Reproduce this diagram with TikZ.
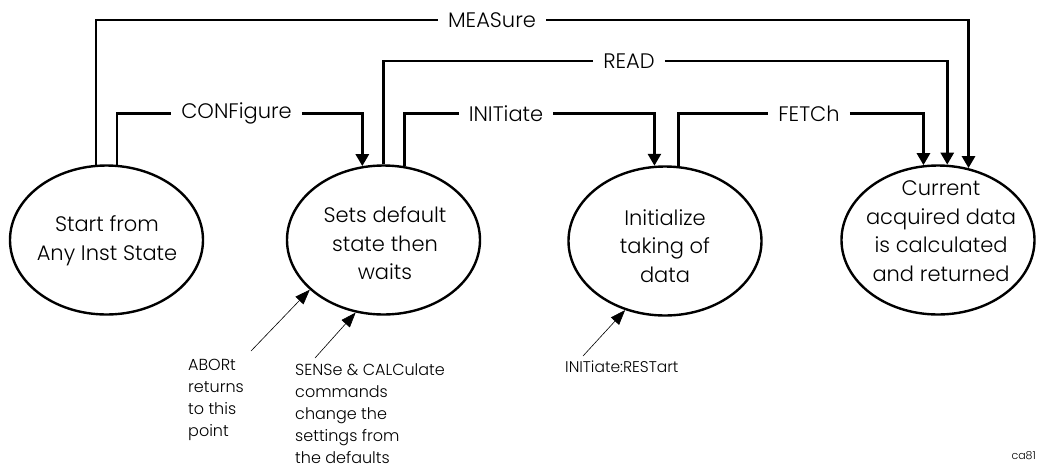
\documentclass[tikz,border=0pt]{standalone}
\usepackage{fontspec}
\setmainfont{Poppins Light}
\usetikzlibrary{arrows.meta,shapes.geometric}
\begin{document}
\begin{tikzpicture}[x=1pt,y=-1pt,
  state/.style={ellipse,draw,line width=2.4pt,minimum width=193pt,minimum height=149pt,inner sep=0pt},
  stxt/.style={align=center,font=\fontsize{21}{28.5}\selectfont,inner sep=0pt},
  cmd/.style={font=\fontsize{21}{24}\selectfont,inner xsep=10pt,inner ysep=0pt},
  flow/.style={line width=2.8pt},
  flowa/.style={flow,-{Triangle[length=12pt,width=13pt]}},
  note/.style={align=left,font=\fontsize{16}{22}\selectfont,inner sep=0pt,anchor=north west},
  pointer/.style={line width=0.6pt,-{Triangle[length=15pt,width=11pt]}}
]
\useasboundingbox (0,0) rectangle (1037,475);
% states
\node[state] (e1) at (106.5,240) {};
\node[state] (e2) at (383.5,240) {};
\node[state] (e3) at (665,241) {};
\node[state] (e4) at (938,240) {};
\node[stxt] (t1) at (107,240.5) {Start from\\Any Inst State};
\node[stxt] (t2) at (385,243.5) {Sets default\\state then\\waits};
\node[stxt] (t3) at (665,246) {Initialize\\taking of\\data};
\node[stxt] (t4) at (941,231) {Current\\acquired data\\is calculated\\and returned};
% command labels
\node[cmd] (meas) at (492,20) {MEASure};
\node[cmd] (read) at (629,61) {READ};
\node[cmd] (conf) at (236.5,113.5) {CONFigure};
\node[cmd] (init) at (506,113.5) {INITiate};
\node[cmd] (fetch) at (809,113.5) {FETCh};
% flows
\draw[flow] (e1.98) |- (meas.west);
\draw[flowa] (meas.east) -| (e4.67);
\draw[flow] (e2.north) |- (read.west);
\draw[flowa] (read.east) -| (e4.83);
\draw[flow] (e1.82) |- (conf.west);
\draw[flowa] (conf.east) -| (e2.106);
\draw[flow] (e2.74) |- (init.west);
\draw[flowa] (init.east) -| (e3.98);
\draw[flow] (e3.80) |- (fetch.west);
\draw[flowa] (fetch.east) -| (e4.101);
% notes
\coordinate (a1) at (251,351);
\coordinate (a2) at (315,358);
\coordinate (a3) at (583,356);
\draw[pointer] (a1) -- (e2.214);
\draw[pointer] (a2) -- (e2.249);
\draw[pointer] (a3) -- (e3.240);
\node[note] (abort) at (188,359) {ABORt\\returns\\to this\\point};
\node[note] (sense) at (295,363) {SENSe \& CALCulate\\commands\\change the\\settings from\\the defaults};
\node[note,font=\fontsize{15.5}{22}\selectfont] (restart) at (565,361) {INITiate:RESTart};
\node[font=\fontsize{11}{13}\selectfont,inner sep=0pt,anchor=base east] (ca) at (1036,459) {ca81};
\end{tikzpicture}
\end{document}
